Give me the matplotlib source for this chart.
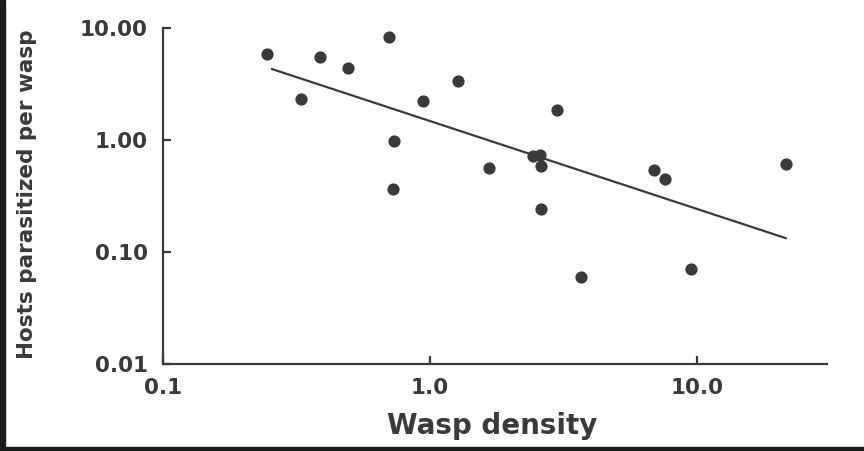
import matplotlib
matplotlib.use("Agg")
import matplotlib.pyplot as plt
from matplotlib.patches import Rectangle

# values (log-log scatter)
wasp_density = [0.245, 0.329, 0.387, 0.493, 0.702, 0.733, 0.727, 0.94, 1.27,
                1.66, 2.43, 2.58, 2.61, 2.61, 2.99, 3.68, 6.9, 7.6, 9.5, 21.5]
hosts_per_wasp = [5.86, 2.32, 5.5, 4.4, 8.3, 0.98, 0.365, 2.23, 3.37,
                  0.56, 0.72, 0.73, 0.59, 0.242, 1.85, 0.060, 0.54, 0.45, 0.070, 0.61]

# fitted regression line, endpoints
fit_x = [0.256, 21.5]
fit_y = [4.3, 0.133]

x_ticks = [0.1, 1.0, 10.0]
x_tick_labels = ["0.1", "1.0", "10.0"]
y_ticks = [0.01, 0.1, 1.0, 10.0]
y_tick_labels = ["0.01", "0.10", "1.00", "10.00"]

ink = "#3a3a3a"
plt.rcParams['font.family'] = ['DejaVu Sans']

fig = plt.figure(figsize=(8.64, 4.51), dpi=100)
ax = fig.add_axes([163/864, 1 - 364/451, (827 - 163)/864, (364 - 28)/451])

ax.plot(fit_x, fit_y, color=ink, lw=1.6, zorder=2)
ax.plot(wasp_density, hosts_per_wasp, 'o', color=ink, ms=8.8, mec='none', zorder=3)

ax.set_xscale('log')
ax.set_yscale('log')
ax.set_xlim(0.1, 30.7)
ax.set_ylim(0.01, 10)

ax.set_xticks(x_ticks)
ax.set_xticklabels(x_tick_labels)
ax.set_yticks(y_ticks)
ax.set_yticklabels(y_tick_labels)
ax.minorticks_off()

for s in ['top', 'right']:
    ax.spines[s].set_visible(False)
for s in ['left', 'bottom']:
    ax.spines[s].set_color(ink)
    ax.spines[s].set_linewidth(1.6)

ax.tick_params(axis='both', direction='in', length=6, width=1.6, color=ink,
               labelcolor=ink, labelsize=15.5)
ax.tick_params(axis='y', pad=11)
ax.tick_params(axis='x', pad=10)
for lbl in ax.get_xticklabels() + ax.get_yticklabels():
    lbl.set_fontweight('bold')

ax.set_xlabel("Wasp density", fontsize=20, fontweight='bold', color=ink)
ax.xaxis.set_label_coords((492 - 163) / 664, -(412 - 364) / 336)
ax.set_ylabel("Hosts parasitized per wasp", fontsize=15.5, fontweight='bold', color=ink)
ax.yaxis.set_label_coords(-0.19, 0.505)

# dark scan borders on the left and bottom
fig.patches.append(Rectangle((0, 0), 5/864, 1, transform=fig.transFigure,
                             color="#1c1c1c", zorder=10))
fig.patches.append(Rectangle((0, 0), 1, 4/451, transform=fig.transFigure,
                             color="#1c1c1c", zorder=10))

fig.savefig("out.png", dpi=100)
